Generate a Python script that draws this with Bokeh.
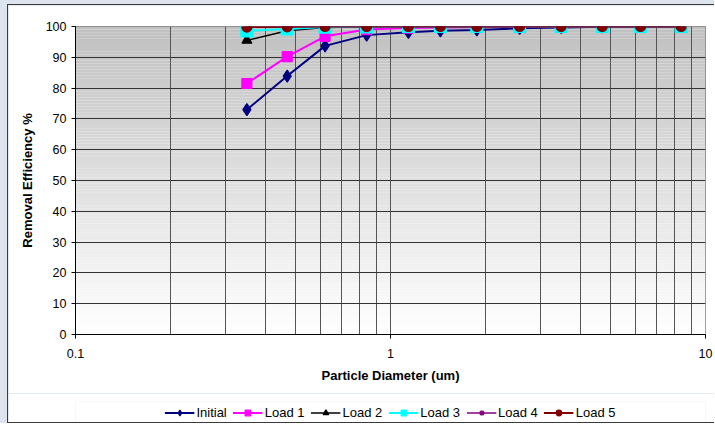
from bokeh.plotting import figure
from bokeh.layouts import column
from bokeh.models import (FixedTicker, NumeralTickFormatter, Legend, LegendItem,
                          ColumnDataSource, Range1d)
from bokeh.embed import file_html
from bokeh.resources import INLINE

# ---- data ----
diameters = [0.35, 0.47, 0.62, 0.84, 1.14, 1.44, 1.88, 2.57, 3.48, 4.70, 6.22, 8.37]
initial = [73.0, 83.9, 93.7, 97.2, 98.1, 98.6, 98.9, 99.4, 99.7, 99.9, 100.0, 100.0]
load1 = [81.5, 90.2, 96.8, 99.0, 99.5, 99.7, 99.8, 99.9, 100.0, 100.0, 100.0, 100.0]
load2 = [95.5, 98.6, 99.7, 99.9, 100.0, 100.0, 100.0, 100.0, 100.0, 100.0, 100.0, 100.0]
load3 = [98.6, 99.2, 99.8, 99.9, 100.0, 100.0, 100.0, 100.0, 100.0, 100.0, 100.0, 100.0]
load4 = [99.8, 99.9, 100.0, 100.0, 100.0, 100.0, 100.0, 100.0, 100.0, 100.0, 100.0, 100.0]
load5 = [99.8, 99.9, 100.0, 100.0, 100.0, 100.0, 100.0, 100.0, 100.0, 100.0, 100.0, 100.0]
series_names = ["Initial", "Load 1", "Load 2", "Load 3", "Load 4", "Load 5"]
x_ticks = [0.1, 1, 10]
x_minor = [0.2, 0.3, 0.4, 0.5, 0.6, 0.7, 0.8, 0.9, 2, 3, 4, 5, 6, 7, 8, 9]
y_ticks = [0, 10, 20, 30, 40, 50, 60, 70, 80, 90, 100]

FONT = "Liberation Sans"
BORDER = "1px solid #3a3a3a"

p = figure(width=707, height=389, x_axis_type="log",
           x_range=Range1d(0.1, 10), y_range=Range1d(0, 100),
           output_backend="svg", toolbar_location=None,
           min_border_left=67, min_border_right=10,
           min_border_top=21, min_border_bottom=60)
p.styles = {"border-left": BORDER, "border-top": BORDER}
p.background_fill_color = "white"
p.border_fill_color = "white"
p.outline_line_color = "#808080"
p.outline_line_width = 1

# vertical gradient background of the plot area (style only)
nstrip = 100
bottoms = [i * 100.0 / nstrip for i in range(nstrip)]
tops = [(i + 1) * 100.0 / nstrip for i in range(nstrip)]
cols = []
for b in bottoms:
    t = (b + 0.5) / 100.0
    g = int(round(255 - t * (255 - 192)))
    cols.append("#%02x%02x%02x" % (g, g, g))
p.quad(left=0.1, right=10, bottom=bottoms, top=tops, fill_color=cols,
       line_color=None, level="image")

# axes
p.xaxis.ticker = FixedTicker(ticks=x_ticks, minor_ticks=x_minor)
p.xaxis.formatter = NumeralTickFormatter(format="0.[0]")
p.yaxis.ticker = FixedTicker(ticks=y_ticks)
for ax in (p.xaxis, p.yaxis):
    ax.axis_line_color = "black"
    ax.major_tick_line_color = "black"
    ax.major_tick_out = 4
    ax.major_tick_in = 0
    ax.minor_tick_line_color = None
    ax.major_label_text_font = FONT
    ax.major_label_text_font_size = "12.5px"
    ax.major_label_text_color = "black"
    ax.axis_label_text_font = FONT
    ax.axis_label_text_font_size = "13px"
    ax.axis_label_text_font_style = "bold"
    ax.axis_label_text_color = "black"
p.xaxis.axis_label = "Particle Diameter (um)"
p.yaxis.axis_label = "Removal Efficiency %"
p.xaxis.major_label_standoff = 10
p.xaxis.axis_label_standoff = 7
p.yaxis.major_label_standoff = 5
p.yaxis.axis_label_standoff = 8

# grids
p.ygrid.grid_line_color = "#333333"
p.ygrid.grid_line_width = 1
p.xgrid.grid_line_color = "#555555"
p.xgrid.minor_grid_line_color = "#555555"
p.xgrid.grid_line_width = 1

src = ColumnDataSource(dict(x=diameters, initial=initial, load1=load1, load2=load2,
                            load3=load3, load4=load4, load5=load5))

styles = [
    ("initial", "#000080", 2, "diamond", 12, "#000080"),
    ("load1", "#ff00ff", 2, "square", 10, "#ff00ff"),
    ("load2", "#000000", 1.5, "triangle", 10, "#000000"),
    ("load3", "#00ffff", 2, "square", 12, "#00ffff"),
    ("load4", "#800080", 1.5, "asterisk", 10, "#800080"),
    ("load5", "#800000", 2, "circle", 10, "#800000"),
]

# legend strip below the chart (its renderers lie outside its visible range)
lf = figure(width=707, height=30, x_range=Range1d(0, 1), y_range=Range1d(-2, -1),
            output_backend="svg", toolbar_location=None,
            x_axis_location=None, y_axis_location=None,
            min_border_left=0, min_border_right=0, min_border_top=8,
            min_border_bottom=0)
lf.grid.visible = False
lf.outline_line_color = None
lf.background_fill_color = "white"
lf.border_fill_color = "white"
lf.styles = {"border-left": BORDER, "border-bottom": BORDER}

items = []
for name, (col, color, lw, marker, size, mcol) in zip(series_names, styles):
    p.line("x", col, source=src, line_color=color, line_width=lw)
    p.scatter("x", col, source=src, marker=marker, size=size,
              fill_color=mcol, line_color=mcol, line_width=1.2)
    ln = lf.line("x", col, source=src, line_color=color, line_width=lw)
    sc = lf.scatter("x", col, source=src, marker=marker, size=size - 2,
                    fill_color=mcol, line_color=mcol, line_width=1.2)
    items.append(LegendItem(label=name, renderers=[ln, sc]))

legend = Legend(items=items, orientation="horizontal", location="center",
                margin=0, padding=0, spacing=6, label_standoff=2,
                glyph_width=30, glyph_height=14, label_height=14,
                label_text_font=FONT, label_text_font_size="13px",
                label_text_color="black",
                background_fill_alpha=0, border_line_color=None)
lf.add_layout(legend)

layout = column(p, lf, spacing=0)
layout.styles = {"padding-left": "7px", "padding-top": "4px",
                 "background-color": "#dde4ee"}
open("out.html", "w").write(file_html(layout, INLINE))
